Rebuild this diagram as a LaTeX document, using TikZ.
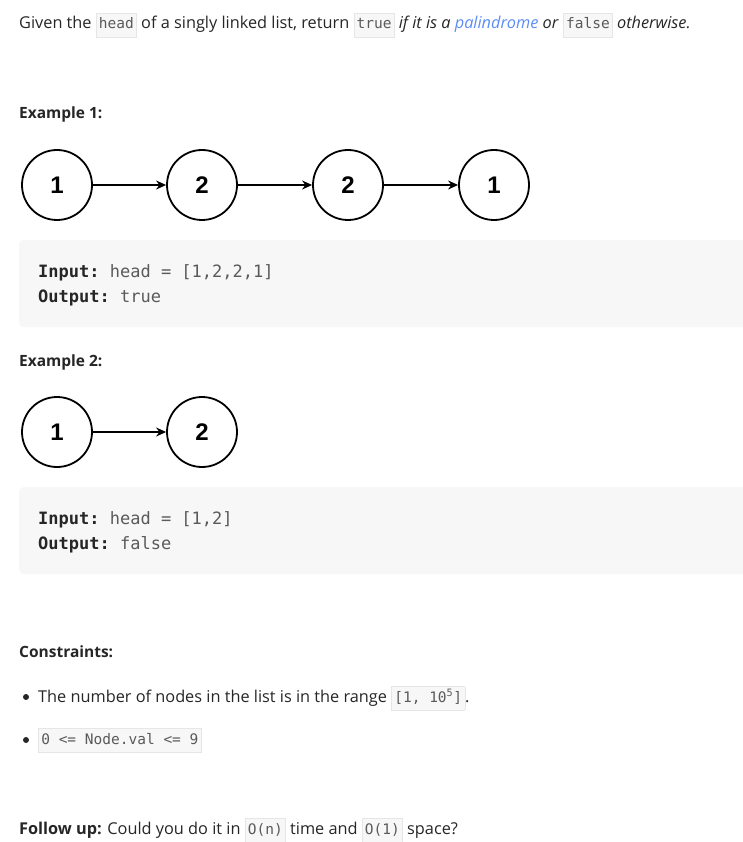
\documentclass[tikz,border=0pt]{standalone}
\usepackage{fontspec}
\setmainfont{Open Sans}
\setmonofont{DejaVu Sans Mono}
\newfontfamily\numfont{Liberation Sans}
\usetikzlibrary{arrows.meta}
\definecolor{codebg}{HTML}{F7F7F7}
\definecolor{codeln}{HTML}{E6E6E6}
\definecolor{txt}{HTML}{262626}
\definecolor{codetx}{HTML}{5A5A5A}
\definecolor{lnk}{HTML}{5C8DF6}
\newcommand\ic[1]{{\setlength\fboxsep{2.5pt}\setlength\fboxrule{0.6pt}\fcolorbox{codeln}{codebg}{\strut\ttfamily\fontsize{14.5}{16}\selectfont\color{codetx}#1}}}
\begin{document}
\begin{tikzpicture}[x=1pt,y=-1pt,
  txtn/.style={anchor=base west,inner sep=0pt,text=txt,font=\fontsize{16.3}{18}\selectfont},
  lnode/.style={circle,draw,line width=1.8pt,minimum size=70pt,inner sep=0pt,font=\numfont\bfseries\fontsize{24}{26}\selectfont},
  link/.style={line width=1.2pt,-{Stealth[length=10pt,width=9pt]}},
  codebox/.style={fill=codebg,rounded corners=5pt,draw=none},
  codet/.style={anchor=base west,inner sep=0pt,font=\ttfamily\fontsize{17}{19}\selectfont,text=codetx}]
\useasboundingbox (0,0) rectangle (743,842);
\fill[white] (0,0) rectangle (743,842);
\node[txtn] (t1) at (19,29) {Given the \ic{head} of a singly linked list, return \ic{true} \textit{if it is a \textcolor{lnk}{palindrome} or} \ic{false} \textit{otherwise.}};
\node[txtn,font=\bfseries\fontsize{15.5}{18}\selectfont] (e1) at (19,119) {Example 1:};
\node[lnode] (a1) at (57,185) {1};
\node[lnode] (a2) at (202,185) {2};
\node[lnode] (a3) at (348,185) {2};
\node[lnode] (a4) at (494,185) {1};
\draw[link] (a1) -- (a2);
\draw[link] (a2) -- (a3);
\draw[link] (a3) -- (a4);
\path[codebox] (19,240) rectangle (760,327);
\node[codet] (i1) at (38,277) {\textbf{\color{txt}Input:} head = [1,2,2,1]};
\node[codet] (o1) at (38,302) {\textbf{\color{txt}Output:} true};
\node[txtn,font=\bfseries\fontsize{15.5}{18}\selectfont] (e2) at (19,366) {Example 2:};
\node[lnode] (b1) at (57,432) {1};
\node[lnode] (b2) at (202,432) {2};
\draw[link] (b1) -- (b2);
\path[codebox] (19,487) rectangle (760,574);
\node[codet] (i2) at (38,524) {\textbf{\color{txt}Input:} head = [1,2]};
\node[codet] (o2) at (38,549) {\textbf{\color{txt}Output:} false};
\node[txtn,font=\bfseries\fontsize{15.5}{18}\selectfont] (c) at (19,657) {Constraints:};
\fill[txt] (26,697) circle (3pt);
\node[txtn] (c1) at (38,702) {The number of nodes in the list is in the range \ic{[1, 10\textsuperscript{5}]}.};
\fill[txt] (26,740) circle (3pt);
\node[txtn] (c2) at (38,744) {\ic{0 <= Node.val <= 9}};
\node[txtn] (f) at (19,834) {\textbf{Follow up:} Could you do it in \ic{O(n)} time and \ic{O(1)} space?};
\end{tikzpicture}
\end{document}
